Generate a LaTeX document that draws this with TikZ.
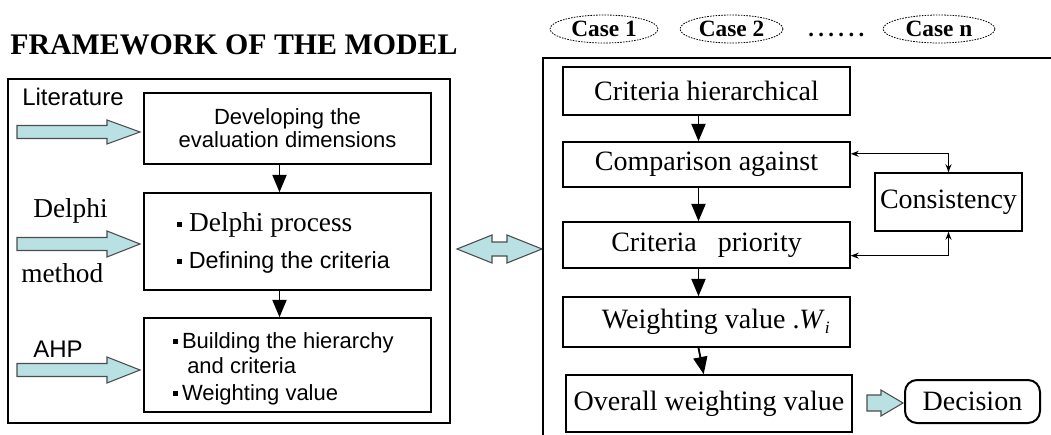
\documentclass[tikz,border=0pt]{standalone}
\usepackage{fontspec}
\setmainfont{Liberation Serif}
\setsansfont{Liberation Sans}
\usetikzlibrary{arrows.meta,shapes.geometric}
\definecolor{arrfill}{RGB}{185,225,228}
\newcommand\bkarr[6]{% x1,x2,yc,shaft half,head half,head length
  \draw[blk] (#1,#3-#4) -- (#2-#6,#3-#4) -- (#2-#6,#3-#5) -- (#2,#3) -- (#2-#6,#3+#5) -- (#2-#6,#3+#4) -- (#1,#3+#4) -- cycle;}
\newcommand\dbarr[6]{%
  \draw[blk] (#1,#3) -- (#1+#6,#3-#5) -- (#1+#6,#3-#4) -- (#2-#6,#3-#4) -- (#2-#6,#3-#5) -- (#2,#3) -- (#2-#6,#3+#5) -- (#2-#6,#3+#4) -- (#1+#6,#3+#4) -- (#1+#6,#3+#5) -- cycle;}
\newcommand\bul{\rule[0.18em]{3.8pt}{3.8pt}}
\begin{document}
\begin{tikzpicture}[x=0.75pt,y=-0.75pt,
  box/.style={draw, line width=1.1pt, inner sep=0pt, align=center},
  lab/.style={anchor=base west, inner sep=0pt},
  sanst/.style={font=\sffamily\fontsize{16.5}{17.25}\selectfont},
  sanslab/.style={font=\sffamily\fontsize{18}{20}\selectfont},
  serlab/.style={font=\fontsize{20.5}{24}\selectfont},
  rt/.style={box, font=\fontsize{21}{24}\selectfont},
  dn/.style={line width=1.4pt, -{Triangle[width=10.5pt,length=13pt]}},
  fb/.style={line width=0.9pt, {Stealth[length=6pt,width=4.5pt]}-{Stealth[length=6pt,width=4.5pt]}},
  blk/.style={draw=black!70, line width=0.8pt, fill=arrfill},
  case/.style={draw, ellipse, dash pattern=on 1.2pt off 0.9pt, line width=0.6pt, inner sep=0pt, font=\bfseries\fontsize{17.5}{20}\selectfont}]
\useasboundingbox (0,0) rectangle (1051,435);

% ---------- left part ----------
\node[lab, font=\bfseries\fontsize{22.4}{26}\selectfont] (title) at (10,55) {FRAMEWORK OF THE MODEL};
\node[box, minimum width=331.5pt, minimum height=258pt] (outer) at (229,251) {};

\node[box, sanst, minimum width=215.25pt, minimum height=53.25pt] (b1) at (287.5,128.5) {Developing the\\evaluation dimensions};
\node[box, minimum width=215.25pt, minimum height=72.75pt] (b2) at (287.5,241.5) {};
\node[box, minimum width=215.25pt, minimum height=70.5pt] (b3) at (287.5,365) {};

\node[lab, serlab] (t21) at (177,232) {\bul\ Delphi process};
\node[lab, font=\sffamily\fontsize{17.5}{20}\selectfont] (t22) at (177,268) {\bul\ Defining the criteria};
\node[lab, sanst] (t31) at (173,348) {\bul\,Building the hierarchy};
\node[lab, sanst] (t32) at (187,373) {and criteria};
\node[lab, sanst] (t33) at (173,400) {\bul\,Weighting value};

\node[lab, sanslab] (lit) at (22,106) {Literature};
\node[lab, serlab] (del) at (33,218) {Delphi};
\node[lab, serlab] (met) at (21,282) {method};
\node[lab, sanslab] (ahp) at (33,357) {AHP};

\bkarr{17}{140}{132}{6.5}{12}{33}
\bkarr{17}{140}{244}{6.5}{13}{33}
\bkarr{17}{140}{370}{6.5}{13}{33}

\draw[dn] ([xshift=-6pt]b1.south) -- ([xshift=-6pt]b2.north);
\draw[dn] ([xshift=-6pt]b2.south) -- ([xshift=-6pt]b3.north);

\dbarr{457}{542}{249}{7}{14}{35}

% ---------- right part ----------
\node[case, minimum width=81pt, minimum height=21pt] (c1) at (604,29) {Case 1};
\node[case, minimum width=77.25pt, minimum height=21pt] (c2) at (731.5,29) {Case 2};
\node[lab, font=\bfseries\fontsize{17}{20}\selectfont] (dots) at (808,37) {.\hspace{3.3pt}.\hspace{3.3pt}.\hspace{3.3pt}.\hspace{3.3pt}.\hspace{3.3pt}.};
\node[case, minimum width=84pt, minimum height=21pt] (cn) at (939,29) {Case n};

\draw[line width=1.1pt] (1051,58) -- (543,58) -- (543,435);

\node[rt, minimum width=215.25pt, minimum height=36pt] (r1) at (706.5,91) {Criteria hierarchical};
\node[rt, minimum width=215.25pt, minimum height=33.75pt] (r2) at (706.5,164.5) {Comparison against};
\node[rt, minimum width=215.25pt, minimum height=34.5pt] (r3) at (706.5,245) {Criteria\ \ \ priority};
\node[rt, minimum width=215.25pt, minimum height=37.5pt] (r4) at (706.5,322) {\hspace*{14pt}Weighting value .\textit{W}\raisebox{-0.35ex}{\fontsize{13}{14}\selectfont\textit{i}}};
\node[rt, minimum width=214.5pt, minimum height=42.75pt] (r5) at (709,403.5) {Overall weighting value};
\node[rt, minimum width=110.25pt, minimum height=43.5pt] (cons) at (948.5,202) {Consistency};
\node[rt, rounded corners=9pt, line width=1.5pt, minimum width=101.25pt, minimum height=32.25pt] (dec) at (972.5,401.5) {Decision};

\draw[dn] ([xshift=-6pt]r1.south) -- ([xshift=-6pt]r2.north);
\draw[dn] ([xshift=-6pt]r2.south) -- ([xshift=-6pt]r3.north);
\draw[dn] ([xshift=-6pt]r3.south) -- ([xshift=-6pt]r4.north);
\draw[dn] ([xshift=-6pt]r4.south) -- ([xshift=-4pt]r5.north);

\draw[fb] ([yshift=8pt]r2.east) -| (cons.north);
\draw[fb] ([yshift=-8pt]r3.east) -| (cons.south);

\bkarr{867}{903}{403}{8}{13}{22}
\end{tikzpicture}
\end{document}
